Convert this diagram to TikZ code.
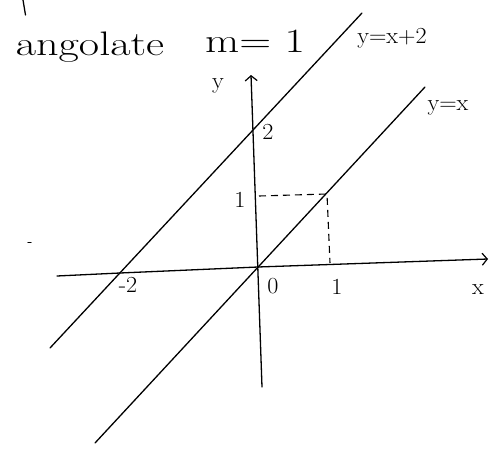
\documentclass[tikz,border=0pt]{standalone}
\usetikzlibrary{arrows.meta}
\begin{document}
\begin{tikzpicture}[x=1pt,y=-1pt,
  pen/.style={line width=1.3pt, line cap=round, line join=round},
  axisarrow/.style={pen, -{Straight Barb[length=5pt,width=12pt,line width=1.2pt]}},
  guide/.style={line width=1.1pt, dash pattern=on 7pt off 5pt},
  lbl/.style={font=\fontsize{23}{26}\selectfont, inner sep=0pt, xscale=1.05},
  title/.style={font=\fontsize{34}{38}\selectfont, inner sep=0pt, anchor=base, xscale=1.3}]
\useasboundingbox (0,0) rectangle (493,450);
% stray marks
\coordinate (s1) at (23,0); \coordinate (s2) at (25.5,15);
\draw[pen] (s1) -- (s2);
\coordinate (d1) at (28,242.5); \coordinate (d2) at (31,242.5);
\draw[pen] (d1) -- (d2);
% title
\node[title] (t1) at (90,55) {angolate};
\node[title] (t2) at (255,52) {m= 1};
% axes
\coordinate (O) at (258,267);
\coordinate (xl) at (57,276);
\coordinate (xm) at (120,273);
\coordinate (xt) at (488,259);
\coordinate (yb) at (262,387);
\coordinate (yt) at (251,75);
\draw[pen] (xl) -- (xm) -- (O);
\draw[axisarrow] (O) -- (xt);
\draw[axisarrow] (yb) -- (yt);
% lines
\coordinate (a1) at (95,443); \coordinate (a2) at (425,87);
\coordinate (b1) at (50,348); \coordinate (b2) at (362,13);
\draw[pen] (a1) -- (a2);
\draw[pen] (b1) -- (b2);
% dashed guides
\coordinate (P) at (327,194);
\coordinate (Py) at (259,196);
\coordinate (Px) at (330,263);
\draw[guide] (Py) -- (P) -- (Px);
% labels
\node[lbl] (ly) at (218,86) {y};
\node[lbl] (l2) at (268,132) {2};
\node[lbl] (l1y) at (240,200) {1};
\node[lbl] (lm2) at (128,285) {-2};
\node[lbl] (l0) at (273,286) {0};
\node[lbl] (l1x) at (337,287) {1};
\node[lbl] (lx) at (478,290) {x};
\node[lbl] (e1) at (392,38) {y=x+2};
\node[lbl] (e2) at (448,108) {y=x};
\end{tikzpicture}
\end{document}
